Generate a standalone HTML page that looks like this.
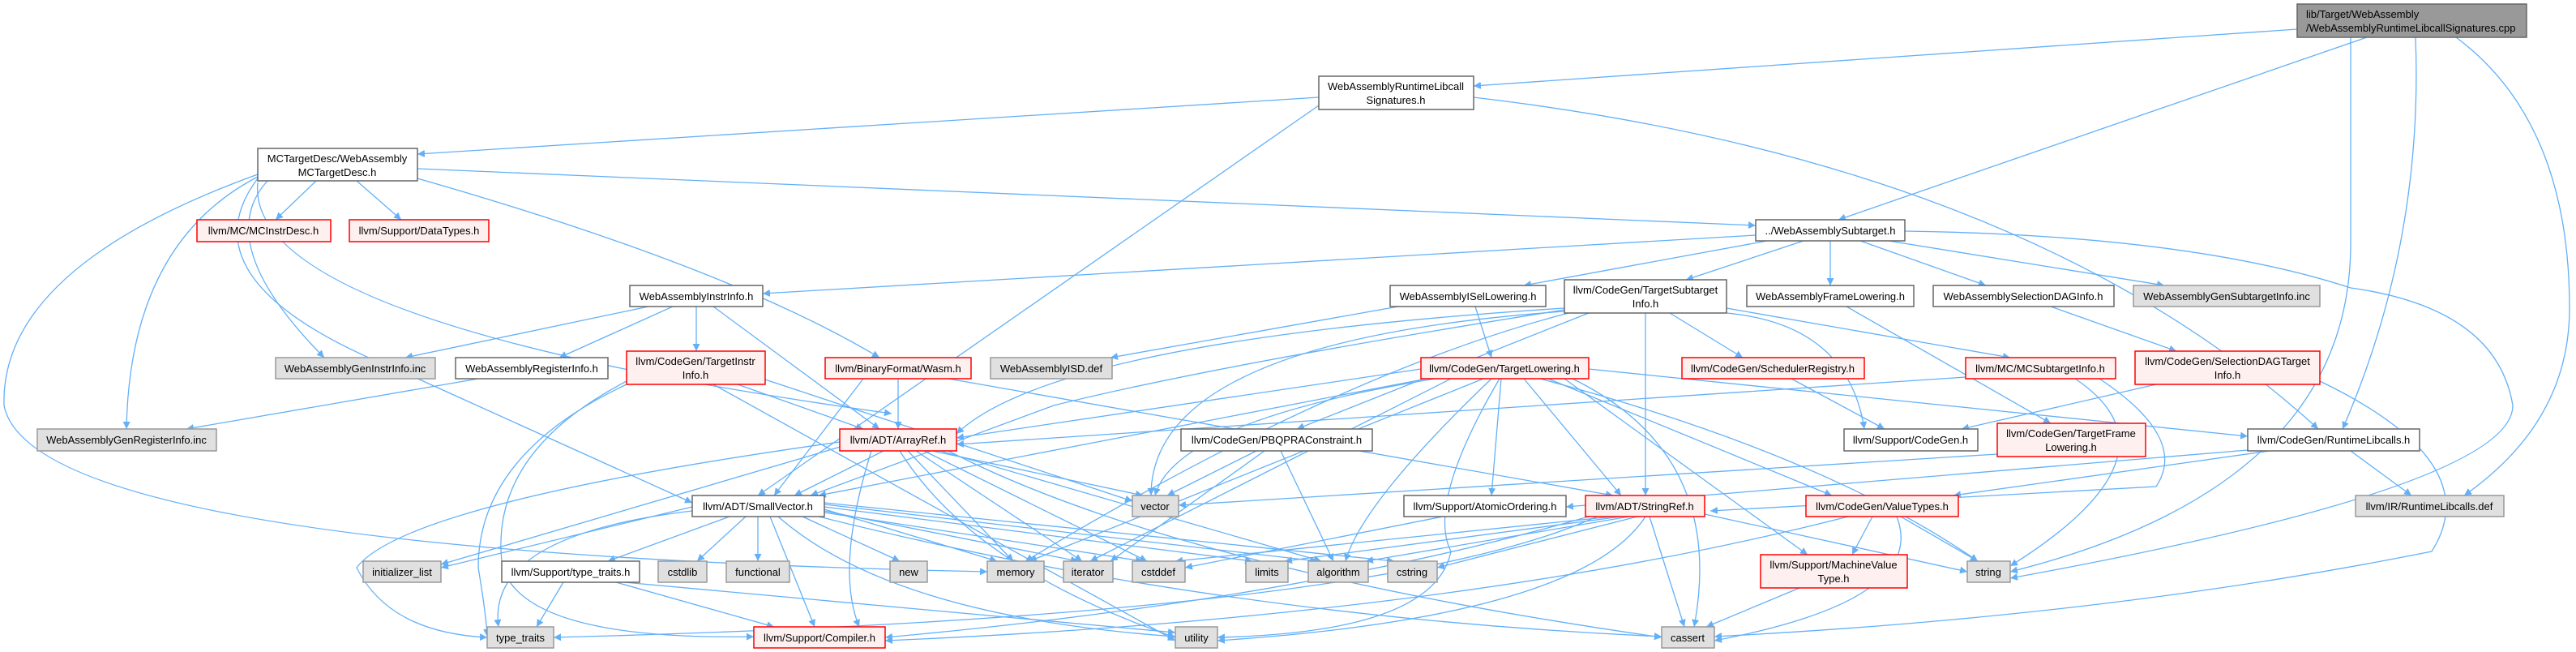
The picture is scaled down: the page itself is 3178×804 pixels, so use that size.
<!DOCTYPE html>
<html><head><meta charset="utf-8"><style>
html,body{margin:0;padding:0;background:#fff;}
svg{display:block;}
text{font-family:"Liberation Sans",sans-serif;font-size:13px;fill:#000;text-anchor:middle;}
.n rect{fill:#fff;stroke:#666;stroke-width:1.5}
.r rect{fill:#fff0f0;stroke:#f00;stroke-width:1.5}
.g rect{fill:#e0e0e0;stroke:#999;stroke-width:1.5}
.root rect{fill:#999;stroke:#666;stroke-width:1.5}
.e{fill:none;stroke:#63b0f8;stroke-width:1.3}
</style></head><body>
<svg width="3178" height="804" viewBox="0 0 3178 804" xmlns="http://www.w3.org/2000/svg">
<defs><marker id="a" viewBox="0 0 10 10" refX="10" refY="5" markerWidth="9" markerHeight="9" orient="auto" markerUnits="userSpaceOnUse"><path d="M0,0 L10,5 L0,10 z" fill="#63b0f8"/></marker></defs>
<g marker-end="url(#a)">
<!-- root -->
<path class="e" d="M2834,36 L1818,106"/>
<path class="e" d="M2920,46 L2268,271"/>
<path class="e" d="M2980,46 Q2990,300 2890,529"/>
<path class="e" d="M3030,46 Q3170,150 3170,380 Q3170,520 3040,611"/>
<path class="e" d="M2900,46 Q2900,200 2900,300 Q2900,600 2480,705"/>
<!-- sig -->
<path class="e" d="M1627,120 L515,190"/>
<path class="e" d="M1627,130 L935,611"/>
<path class="e" d="M1818,120 Q2500,200 2860,529"/>
<!-- mctd -->
<path class="e" d="M390,223 L340,271"/>
<path class="e" d="M440,223 L495,271"/>
<path class="e" d="M515,208 L2166,278"/>
<path class="e" d="M330,223 Q260,300 400,441"/>
<path class="e" d="M318,218 Q160,300 156,529"/>
<path class="e" d="M515,220 Q900,330 1085,441"/>
<path class="e" d="M318,215 Q0,330 5,500 Q40,680 1218,705"/>
<path class="e" d="M318,220 Q220,350 500,460 L854,620"/>
<path class="e" d="M318,225 Q300,400 1100,510"/>
<!-- sub -->
<path class="e" d="M2166,290 L941,362"/>
<path class="e" d="M2180,297 L1880,352"/>
<path class="e" d="M2225,297 L2080,345"/>
<path class="e" d="M2258,297 L2258,352"/>
<path class="e" d="M2295,297 L2450,352"/>
<path class="e" d="M2330,297 L2670,352"/>
<path class="e" d="M2350,285 Q2700,290 2900,355 Q3080,380 3100,500 Q3100,600 2480,713"/>
<!-- instrinfo -->
<path class="e" d="M800,378 L500,441"/>
<path class="e" d="M830,378 L690,441"/>
<path class="e" d="M859,378 L859,433"/>
<path class="e" d="M880,378 L1085,529"/>
<!-- reginfo -->
<path class="e" d="M590,467 L230,529"/>
<!-- tii -->
<path class="e" d="M910,474 L1065,529"/>
<path class="e" d="M773,470 Q600,560 620,700 Q650,790 930,785"/>
<path class="e" d="M944,468 L1397,618"/>
<path class="e" d="M773,474 Q590,560 590,700 Q600,760 601,785"/>
<path class="e" d="M880,474 L1450,790"/>
<!-- wasm -->
<path class="e" d="M1108,467 L1108,529"/>
<path class="e" d="M1065,467 L955,611"/>
<path class="e" d="M1170,467 L1990,611"/>
<!-- isel -->
<path class="e" d="M1725,378 L1370,441"/>
<path class="e" d="M1820,378 L1840,441"/>
<!-- tsi -->
<path class="e" d="M1930,380 Q1300,420 1180,535"/>
<path class="e" d="M1930,382 Q1500,450 1300,500 L1000,611"/>
<path class="e" d="M2030,386 L2030,611"/>
<path class="e" d="M1960,386 L1600,529"/>
<path class="e" d="M2060,386 L2150,441"/>
<path class="e" d="M2130,380 L2480,441"/>
<path class="e" d="M2130,386 Q2280,400 2300,529"/>
<path class="e" d="M1930,384 Q1420,420 1420,611"/>
<path class="e" d="M1935,386 Q1650,460 1265,692"/>
<!-- frame / seldag -->
<path class="e" d="M2278,378 L2530,522"/>
<path class="e" d="M2530,378 L2685,433"/>
<!-- sdti -->
<path class="e" d="M2660,474 L2420,529"/>
<path class="e" d="M2862,470 Q3070,570 3000,680 Q2600,760 2115,785"/>
<!-- tl -->
<path class="e" d="M1753,455 L1180,540"/>
<path class="e" d="M1760,467 L1010,611"/>
<path class="e" d="M1880,467 L2000,611"/>
<path class="e" d="M1852,467 L1840,611"/>
<path class="e" d="M1910,467 L2260,611"/>
<path class="e" d="M1930,467 L2230,684"/>
<path class="e" d="M1960,455 L2773,538"/>
<path class="e" d="M1770,467 Q1450,520 1425,611"/>
<path class="e" d="M1830,467 L1270,692"/>
<path class="e" d="M1790,467 L1345,692"/>
<path class="e" d="M1840,467 Q1680,620 1660,692"/>
<path class="e" d="M1940,467 Q2130,560 2090,773"/>
<path class="e" d="M1900,467 Q2250,560 2440,692"/>
<path class="e" d="M1850,467 Q1760,620 1790,680 Q1770,780 1502,786"/>
<!-- sched / mcsti -->
<path class="e" d="M2210,467 L2325,529"/>
<path class="e" d="M2425,465 L1180,548"/>
<path class="e" d="M2560,467 Q2700,560 2480,698"/>
<path class="e" d="M2590,467 Q2700,540 2660,600 L2110,630"/>
<!-- tfl / rtl -->
<path class="e" d="M2464,560 L1454,623"/>
<path class="e" d="M2773,555 L1932,625"/>
<path class="e" d="M2800,556 L2410,611"/>
<path class="e" d="M2900,556 L2975,611"/>
<!-- arrayref -->
<path class="e" d="M1090,556 L980,611"/>
<path class="e" d="M1150,556 L1410,611"/>
<path class="e" d="M1120,556 L1250,692"/>
<path class="e" d="M1130,556 L1335,692"/>
<path class="e" d="M1140,556 L1415,692"/>
<path class="e" d="M1160,556 L1630,692"/>
<path class="e" d="M1040,550 L544,696"/>
<path class="e" d="M1036,545 Q500,620 440,700 Q480,780 601,786"/>
<path class="e" d="M1075,556 Q1030,700 1060,773"/>
<path class="e" d="M1170,556 Q1450,700 2050,786"/>
<path class="e" d="M1110,556 Q1200,700 1450,786"/>
<!-- smallvec -->
<path class="e" d="M854,625 L544,700"/>
<path class="e" d="M900,637 L750,692"/>
<path class="e" d="M920,637 L860,692"/>
<path class="e" d="M935,637 L935,692"/>
<path class="e" d="M990,637 L1110,692"/>
<path class="e" d="M1017,628 L1230,692"/>
<path class="e" d="M1017,630 L1330,692"/>
<path class="e" d="M1017,632 L1410,692"/>
<path class="e" d="M1017,625 L1545,692"/>
<path class="e" d="M1017,622 L1625,692"/>
<path class="e" d="M1017,620 L1720,692"/>
<path class="e" d="M960,637 Q1100,760 1450,785"/>
<path class="e" d="M1010,637 Q1500,760 2050,785"/>
<path class="e" d="M950,637 L1005,773"/>
<path class="e" d="M854,630 Q600,660 615,773"/>
<!-- tth -->
<path class="e" d="M695,718 L662,773"/>
<path class="e" d="M760,718 L955,773"/>
<path class="e" d="M770,718 L1450,780"/>
<!-- pbqp -->
<path class="e" d="M1550,556 L1440,611"/>
<path class="e" d="M1560,556 L1370,692"/>
<path class="e" d="M1580,556 L1645,692"/>
<!-- stringref -->
<path class="e" d="M1990,637 L1450,692"/>
<path class="e" d="M2000,637 L1585,692"/>
<path class="e" d="M2010,637 L1685,692"/>
<path class="e" d="M2020,637 L1773,700"/>
<path class="e" d="M2103,634 L2427,705"/>
<path class="e" d="M2030,637 Q1950,760 1502,790"/>
<path class="e" d="M2035,637 L2078,773"/>
<path class="e" d="M1960,637 Q1600,740 1092,786"/>
<path class="e" d="M1970,637 Q1700,760 683,786"/>
<!-- atomic -->
<path class="e" d="M1780,637 L1462,700"/>
<!-- valuetypes -->
<path class="e" d="M2310,637 L2285,684"/>
<path class="e" d="M2345,637 L2440,692"/>
<path class="e" d="M2340,637 Q2380,740 2115,790"/>
<path class="e" d="M2280,637 Q1800,760 1092,790"/>
<!-- mvt -->
<path class="e" d="M2220,725 L2105,773"/>
</g>
<!-- nodes -->
<g class="root"><rect x="2834" y="5" width="283" height="41"/><text x="2845" y="22" style="text-anchor:start">lib/Target/WebAssembly</text><text x="2845" y="39" style="text-anchor:start">/WebAssemblyRuntimeLibcallSignatures.cpp</text></g>
<g class="n"><rect x="1627" y="94" width="191" height="41"/><text x="1722" y="111">WebAssemblyRuntimeLibcall</text><text x="1722" y="128">Signatures.h</text></g>
<g class="n"><rect x="318" y="183" width="197" height="40"/><text x="416" y="200">MCTargetDesc/WebAssembly</text><text x="416" y="217">MCTargetDesc.h</text></g>
<g class="r"><rect x="243" y="271" width="165" height="27"/><text x="325" y="289">llvm/MC/MCInstrDesc.h</text></g>
<g class="r"><rect x="431" y="271" width="172" height="27"/><text x="517" y="289">llvm/Support/DataTypes.h</text></g>
<g class="n"><rect x="2166" y="271" width="184" height="26"/><text x="2258" y="289">../WebAssemblySubtarget.h</text></g>
<g class="n"><rect x="777" y="352" width="164" height="26"/><text x="859" y="370">WebAssemblyInstrInfo.h</text></g>
<g class="n"><rect x="1715" y="352" width="192" height="26"/><text x="1811" y="370">WebAssemblyISelLowering.h</text></g>
<g class="n"><rect x="1930" y="345" width="200" height="41"/><text x="2030" y="362">llvm/CodeGen/TargetSubtarget</text><text x="2030" y="379">Info.h</text></g>
<g class="n"><rect x="2155" y="352" width="206" height="26"/><text x="2258" y="370">WebAssemblyFrameLowering.h</text></g>
<g class="n"><rect x="2385" y="352" width="223" height="26"/><text x="2496" y="370">WebAssemblySelectionDAGInfo.h</text></g>
<g class="g"><rect x="2632" y="352" width="230" height="26"/><text x="2747" y="370">WebAssemblyGenSubtargetInfo.inc</text></g>
<g class="g"><rect x="340" y="441" width="197" height="26"/><text x="438" y="459">WebAssemblyGenInstrInfo.inc</text></g>
<g class="n"><rect x="562" y="441" width="188" height="26"/><text x="656" y="459">WebAssemblyRegisterInfo.h</text></g>
<g class="r"><rect x="773" y="433" width="171" height="41"/><text x="858" y="450">llvm/CodeGen/TargetInstr</text><text x="858" y="467">Info.h</text></g>
<g class="r"><rect x="1018" y="441" width="180" height="26"/><text x="1108" y="459">llvm/BinaryFormat/Wasm.h</text></g>
<g class="g"><rect x="1222" y="441" width="150" height="26"/><text x="1297" y="459">WebAssemblyISD.def</text></g>
<g class="r"><rect x="1753" y="441" width="207" height="26"/><text x="1856" y="459">llvm/CodeGen/TargetLowering.h</text></g>
<g class="r"><rect x="2075" y="441" width="225" height="26"/><text x="2187" y="459">llvm/CodeGen/SchedulerRegistry.h</text></g>
<g class="r"><rect x="2425" y="441" width="185" height="26"/><text x="2517" y="459">llvm/MC/MCSubtargetInfo.h</text></g>
<g class="r"><rect x="2634" y="433" width="228" height="41"/><text x="2748" y="450">llvm/CodeGen/SelectionDAGTarget</text><text x="2748" y="467">Info.h</text></g>
<g class="g"><rect x="46" y="529" width="221" height="27"/><text x="156" y="547">WebAssemblyGenRegisterInfo.inc</text></g>
<g class="r"><rect x="1036" y="529" width="144" height="27"/><text x="1108" y="547">llvm/ADT/ArrayRef.h</text></g>
<g class="n"><rect x="1457" y="529" width="236" height="27"/><text x="1575" y="547">llvm/CodeGen/PBQPRAConstraint.h</text></g>
<g class="n"><rect x="2275" y="529" width="165" height="27"/><text x="2357" y="547">llvm/Support/CodeGen.h</text></g>
<g class="r"><rect x="2464" y="522" width="183" height="41"/><text x="2555" y="539">llvm/CodeGen/TargetFrame</text><text x="2555" y="556">Lowering.h</text></g>
<g class="n"><rect x="2773" y="529" width="212" height="27"/><text x="2879" y="547">llvm/CodeGen/RuntimeLibcalls.h</text></g>
<g class="n"><rect x="854" y="611" width="163" height="26"/><text x="935" y="629">llvm/ADT/SmallVector.h</text></g>
<g class="g"><rect x="1397" y="611" width="57" height="26"/><text x="1425" y="629">vector</text></g>
<g class="n"><rect x="1732" y="611" width="200" height="26"/><text x="1832" y="629">llvm/Support/AtomicOrdering.h</text></g>
<g class="r"><rect x="1956" y="611" width="147" height="26"/><text x="2029" y="629">llvm/ADT/StringRef.h</text></g>
<g class="r"><rect x="2228" y="611" width="188" height="26"/><text x="2322" y="629">llvm/CodeGen/ValueTypes.h</text></g>
<g class="g"><rect x="2906" y="611" width="183" height="26"/><text x="2997" y="629">llvm/IR/RuntimeLibcalls.def</text></g>
<g class="g"><rect x="448" y="692" width="96" height="26"/><text x="496" y="710">initializer_list</text></g>
<g class="n"><rect x="619" y="692" width="170" height="26"/><text x="704" y="710">llvm/Support/type_traits.h</text></g>
<g class="g"><rect x="812" y="692" width="60" height="26"/><text x="842" y="710">cstdlib</text></g>
<g class="g"><rect x="896" y="692" width="78" height="26"/><text x="935" y="710">functional</text></g>
<g class="g"><rect x="1098" y="692" width="46" height="26"/><text x="1121" y="710">new</text></g>
<g class="g"><rect x="1218" y="692" width="70" height="26"/><text x="1253" y="710">memory</text></g>
<g class="g"><rect x="1312" y="692" width="61" height="26"/><text x="1342" y="710">iterator</text></g>
<g class="g"><rect x="1397" y="692" width="65" height="26"/><text x="1429" y="710">cstddef</text></g>
<g class="g"><rect x="1537" y="692" width="52" height="26"/><text x="1563" y="710">limits</text></g>
<g class="g"><rect x="1614" y="692" width="74" height="26"/><text x="1651" y="710">algorithm</text></g>
<g class="g"><rect x="1712" y="692" width="61" height="26"/><text x="1742" y="710">cstring</text></g>
<g class="r"><rect x="2172" y="684" width="181" height="41"/><text x="2262" y="701">llvm/Support/MachineValue</text><text x="2262" y="718">Type.h</text></g>
<g class="g"><rect x="2427" y="692" width="53" height="26"/><text x="2453" y="710">string</text></g>
<g class="g"><rect x="601" y="773" width="82" height="26"/><text x="642" y="791">type_traits</text></g>
<g class="r"><rect x="930" y="773" width="162" height="26"/><text x="1011" y="791">llvm/Support/Compiler.h</text></g>
<g class="g"><rect x="1450" y="773" width="52" height="26"/><text x="1476" y="791">utility</text></g>
<g class="g"><rect x="2050" y="773" width="65" height="26"/><text x="2082" y="791">cassert</text></g>
</svg>
</body></html>
